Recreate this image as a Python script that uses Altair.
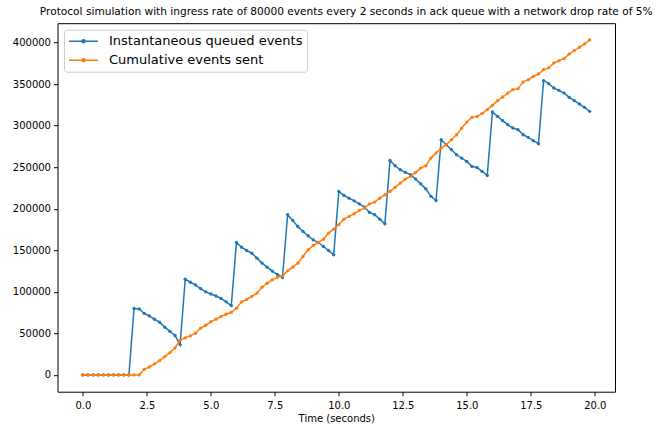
import altair as alt
import pandas as pd

# Sample times (seconds)
times = [
    0.0, 0.2, 0.4, 0.6, 0.8, 1.0, 1.2, 1.4, 1.6, 1.8,
    2.0, 2.2, 2.4, 2.6, 2.8, 3.0, 3.2, 3.4, 3.6, 3.8,
    4.0, 4.2, 4.4, 4.6, 4.8, 5.0, 5.2, 5.4, 5.6, 5.8,
    6.0, 6.2, 6.4, 6.6, 6.8, 7.0, 7.2, 7.4, 7.6, 7.8,
    8.0, 8.2, 8.4, 8.6, 8.8, 9.0, 9.2, 9.4, 9.6, 9.8,
    10.0, 10.2, 10.4, 10.6, 10.8, 11.0, 11.2, 11.4, 11.6, 11.8,
    12.0, 12.2, 12.4, 12.6, 12.8, 13.0, 13.2, 13.4, 13.6, 13.8,
    14.0, 14.2, 14.4, 14.6, 14.8, 15.0, 15.2, 15.4, 15.6, 15.8,
    16.0, 16.2, 16.4, 16.6, 16.8, 17.0, 17.2, 17.4, 17.6, 17.8,
    18.0, 18.2, 18.4, 18.6, 18.8, 19.0, 19.2, 19.4, 19.6, 19.8,
]

# Events sitting in the ack queue at each sample
queued = [
    0, 0, 0, 0, 0, 0, 0, 0, 0, 0,
    80000, 79500, 74000, 71000, 67000, 63500, 57500, 52500, 47500, 36500,
    115300, 111600, 108500, 104000, 100000, 97500, 95000, 92000, 88000, 83500,
    159400, 153800, 149800, 146600, 140600, 134600, 129700, 125000, 121000, 117300,
    192800, 186000, 178700, 172700, 167500, 162600, 159400, 154600, 149800, 144600,
    220900, 216100, 212800, 209600, 206000, 202000, 195600, 192800, 187500, 181900,
    258200, 251800, 247000, 243800, 241000, 235700, 230000, 224000, 215000, 210000,
    283100, 277100, 271100, 265000, 261000, 257000, 251000, 249600, 245000, 240200,
    316500, 311200, 306000, 301200, 297200, 295200, 289100, 286000, 281900, 278300,
    354200, 350600, 345400, 342600, 339300, 334100, 330100, 326100, 322100, 317300,
]

# Running total of events sent
sent = [
    0, 0, 0, 0, 0, 0, 0, 0, 0, 0,
    0, 0, 6800, 9600, 13300, 17300, 22100, 26900, 32500, 42000,
    44600, 47000, 50200, 56200, 59800, 64000, 67100, 70300, 73100, 75500,
    80300, 88000, 90800, 94500, 98400, 105600, 110400, 114500, 117700, 119300,
    125300, 129700, 134500, 142600, 150600, 155800, 159400, 163400, 170700, 175500,
    181000, 187500, 190800, 194000, 198000, 200800, 206000, 208000, 212800, 216900,
    220900, 225700, 230900, 235700, 239000, 243800, 249000, 251800, 261000, 267100,
    273100, 277100, 283100, 289100, 297000, 304400, 310000, 311200, 314900, 319300,
    324500, 330100, 334500, 339300, 343400, 344600, 352600, 355400, 359400, 362200,
    367500, 369500, 375500, 378300, 380700, 386300, 390400, 394400, 398400, 403200,
]

series_names = ["Instantaneous queued events", "Cumulative events sent"]
series_colors = ["#1f77b4", "#ff7f0e"]

x_ticks = [0.0, 2.5, 5.0, 7.5, 10.0, 12.5, 15.0, 17.5, 20.0]
y_ticks = [0, 50000, 100000, 150000, 200000, 250000, 300000, 350000, 400000]

title_text = ("Protocol simulation with ingress rate of 80000 events every 2 seconds "
              "in ack queue with a network drop rate of 5%")

FONT = "DejaVu Sans"

df_queued = pd.DataFrame({"t": times, "v": queued, "series": series_names[0]})
df_sent = pd.DataFrame({"t": times, "v": sent, "series": series_names[1]})

# 5% padding around the data range on both axes
x_lo, x_hi = min(times), max(times)
y_lo, y_hi = min(min(queued), min(sent)), max(max(queued), max(sent))
x_pad = 0.05 * (x_hi - x_lo)
y_pad = 0.05 * (y_hi - y_lo)

x_enc = alt.X(
    "t:Q",
    scale=alt.Scale(domain=[x_lo - x_pad, x_hi + x_pad], nice=False, zero=False),
    axis=alt.Axis(values=x_ticks, format=".1f", title="Time (seconds)", grid=False,
                  labelPadding=5, titlePadding=3),
)
y_enc = alt.Y(
    "v:Q",
    scale=alt.Scale(domain=[y_lo - y_pad, y_hi + y_pad], nice=False, zero=False),
    axis=alt.Axis(values=y_ticks, format="d", title=None, grid=False),
)

# Line sample with a small dot in the middle, in the [-1, 1] symbol box
legend_symbol = "M-1,0L1,0M-0.1,0A0.1,0.1,0,1,0,0.1,0A0.1,0.1,0,1,0,-0.1,0Z"

color_enc = alt.Color(
    "series:N",
    scale=alt.Scale(domain=series_names, range=series_colors),
    legend=alt.Legend(
        title=None,
        orient="none",
        legendX=6.5,
        legendY=6.5,
        direction="vertical",
        symbolType=legend_symbol,
        symbolSize=841,
        symbolStrokeWidth=1.5,
        clipHeight=15,
        rowPadding=4,
        padding=4,
        labelOffset=10,
        labelLimit=400,
        labelFont=FONT,
        labelFontSize=13,
        labelColor="#000000",
        fillColor="#ffffff",
        strokeColor="#cccccc",
        cornerRadius=3,
    ),
)
color_plain = alt.Color(
    "series:N",
    scale=alt.Scale(domain=series_names, range=series_colors),
    legend=None,
)


def series_layers(df):
    line = alt.Chart(df).mark_line(strokeWidth=1.5).encode(
        x=x_enc, y=y_enc, color=color_enc
    )
    dots = alt.Chart(df).mark_circle(size=11, opacity=1).encode(
        x=x_enc, y=y_enc, color=color_plain
    )
    return [line, dots]


chart = alt.layer(
    *series_layers(df_queued), *series_layers(df_sent)
).properties(
    width=557.5,
    height=368.5,
    background="#ffffff",
    title=alt.TitleParams(
        title_text,
        font=FONT,
        fontSize=10.6,
        fontWeight="normal",
        color="#000000",
        anchor="middle",
        frame="group",
        offset=6,
        dx=10,
    ),
    autosize=alt.AutoSizeParams(type="none"),
    padding={"left": 57.5, "top": 23.2, "right": 42, "bottom": 37.3},
).configure_view(
    stroke="#000000", strokeWidth=1
).configure_axis(
    domain=False,
    grid=False,
    ticks=True,
    tickColor="#000000",
    tickSize=4,
    tickWidth=1,
    labelFont=FONT,
    labelFontSize=10,
    labelColor="#000000",
    labelPadding=3,
    titleFont=FONT,
    titleFontSize=10,
    titleFontWeight="normal",
    titleColor="#000000",
    titlePadding=2,
)

chart.save("out.html", embed_options={"renderer": "svg", "actions": False})
